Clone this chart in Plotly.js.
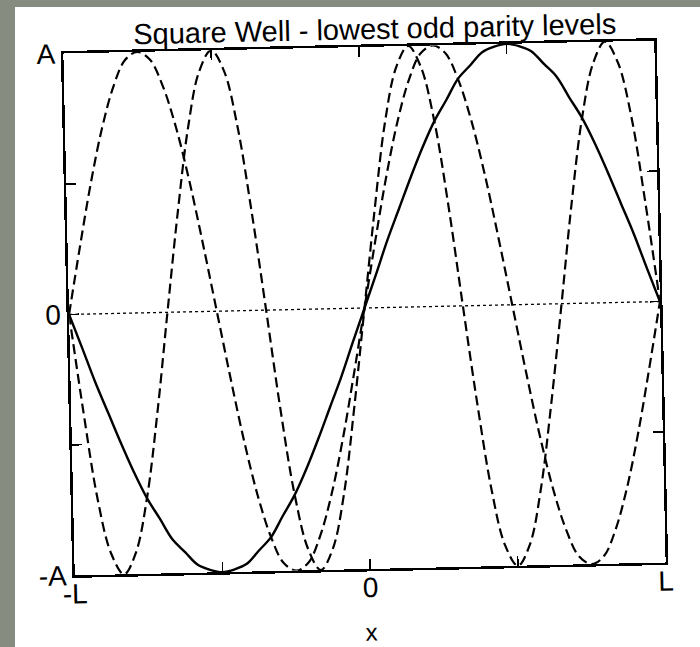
<!DOCTYPE html>
<html>
<head>
<meta charset="utf-8">
<script src="https://cdn.plot.ly/plotly-3.0.1.min.js"></script>
<style>
  html, body { margin: 0; padding: 0; width: 700px; height: 647px; overflow: hidden; background: #878c80; }
  #sheet { position: absolute; left: 15px; top: 7px; width: 685px; height: 640px; background: #ffffff; }
  #chart { position: absolute; left: 0; top: 0; width: 700px; height: 647px;
           transform-origin: 364.5px 307.75px; transform: rotate(-1.25deg); }
</style>
</head>
<body>
<div id="sheet"></div>
<div id="chart"></div>
<script>
// Position across the well, in units of L (steps of L/24)
const xPos = [
  -1.000, -0.958, -0.917, -0.875, -0.833, -0.792, -0.750, -0.708, -0.667, -0.625, -0.583, -0.542,
  -0.500, -0.458, -0.417, -0.375, -0.333, -0.292, -0.250, -0.208, -0.167, -0.125, -0.083, -0.042,
   0.000,  0.042,  0.083,  0.125,  0.167,  0.208,  0.250,  0.292,  0.333,  0.375,  0.417,  0.458,
   0.500,  0.542,  0.583,  0.625,  0.667,  0.708,  0.750,  0.792,  0.833,  0.875,  0.917,  0.958,
   1.000
];

// Wavefunction amplitude (units of A) for the three lowest odd-parity levels
const level1 = [
  0, -0.13, -0.26, -0.38, -0.50, -0.61, -0.71, -0.79, -0.87, -0.92, -0.97, -0.99,
  -1, -0.99, -0.97, -0.92, -0.87, -0.79, -0.71, -0.61, -0.50, -0.38, -0.26, -0.13,
  0, 0.13, 0.26, 0.38, 0.50, 0.61, 0.71, 0.79, 0.87, 0.92, 0.97, 0.99,
  1, 0.99, 0.97, 0.92, 0.87, 0.79, 0.71, 0.61, 0.50, 0.38, 0.26, 0.13,
  0
];
const level2 = [
  0, 0.26, 0.50, 0.71, 0.87, 0.97, 1, 0.97, 0.87, 0.71, 0.50, 0.26,
  0, -0.26, -0.50, -0.71, -0.87, -0.97, -1, -0.97, -0.87, -0.71, -0.50, -0.26,
  0, 0.26, 0.50, 0.71, 0.87, 0.97, 1, 0.97, 0.87, 0.71, 0.50, 0.26,
  0, -0.26, -0.50, -0.71, -0.87, -0.97, -1, -0.97, -0.87, -0.71, -0.50, -0.26,
  0
];
const level3 = [
  0, -0.38, -0.71, -0.92, -1, -0.92, -0.71, -0.38, 0, 0.38, 0.71, 0.92,
  1, 0.92, 0.71, 0.38, 0, -0.38, -0.71, -0.92, -1, -0.92, -0.71, -0.38,
  0, 0.38, 0.71, 0.92, 1, 0.92, 0.71, 0.38, 0, -0.38, -0.71, -0.92,
  -1, -0.92, -0.71, -0.38, 0, 0.38, 0.71, 0.92, 1, 0.92, 0.71, 0.38,
  0
];

// Dotted reference level at zero amplitude
const zeroEnds = [-1, 1];
const zeroLevel = [0, 0];

// Axis ticks and labels
const xTickVals = [-1, -0.5, 0, 0.5, 1];
const xTickText = ['-L', '', '0', '', 'L'];
const yTickVals = [-1, -0.5, 0, 0.5, 1];
const yTickText = ['-A', '', '0', '', 'A'];

const ink = '#000000';
const FONT = '"Liberation Sans", Arial, Helvetica, sans-serif';

const traces = [
  { x: zeroEnds, y: zeroLevel, mode: 'lines', line: { color: ink, width: 1.3, dash: 'dot' }, hoverinfo: 'skip' },
  { x: xPos, y: level1, mode: 'lines', line: { color: ink, width: 2.4, shape: 'spline' } },
  { x: xPos, y: level2, mode: 'lines', line: { color: ink, width: 2.2, shape: 'spline', dash: '10px,5px' } },
  { x: xPos, y: level3, mode: 'lines', line: { color: ink, width: 2.2, shape: 'spline', dash: '10px,5px' } }
];

const axisCommon = {
  showgrid: false,
  zeroline: false,
  showline: true,
  linecolor: ink,
  linewidth: 2.5,
  mirror: 'ticks',
  ticks: 'inside',
  ticklen: 10,
  tickwidth: 1.5,
  tickcolor: ink,
  tickmode: 'array',
  tickfont: { family: FONT, size: 28, color: ink }
};

const layout = {
  width: 700,
  height: 647,
  margin: { l: 69, r: 40, t: 47, b: 78 },
  paper_bgcolor: 'rgba(0,0,0,0)',
  plot_bgcolor: 'rgba(0,0,0,0)',
  showlegend: false,
  font: { family: FONT, color: ink },
  title: {
    text: 'Square Well - lowest odd parity levels',
    font: { family: FONT, size: 29, color: ink },
    xref: 'container', x: 0.544, xanchor: 'center',
    yref: 'container', y: 0.955, yanchor: 'middle'
  },
  xaxis: Object.assign({}, axisCommon, {
    range: [-1, 1],
    tickvals: xTickVals,
    ticktext: xTickText,
    ticklabelstandoff: -8,
    title: { text: 'x', font: { family: FONT, size: 24, color: ink }, standoff: 22 }
  }),
  yaxis: Object.assign({}, axisCommon, {
    range: [-1, 1],
    tickvals: yTickVals,
    ticktext: yTickText
  })
};

Plotly.newPlot('chart', traces, layout, { staticPlot: true, displayModeBar: false });
</script>
</body>
</html>
